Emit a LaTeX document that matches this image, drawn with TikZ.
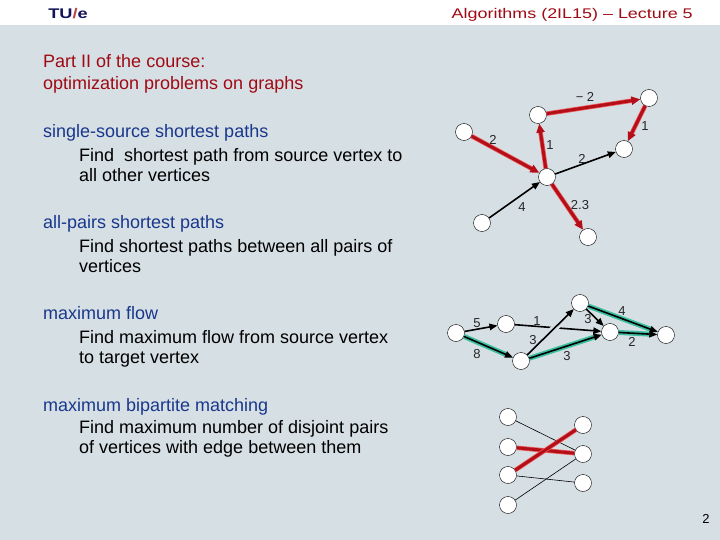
\documentclass[tikz,border=0pt]{standalone}
\usepackage{fontspec}
\setmainfont{Liberation Sans}
\definecolor{slidebg}{RGB}{214,223,228}
\definecolor{tuenavy}{RGB}{20,20,90}
\definecolor{titlered}{RGB}{160,10,20}
\definecolor{headblue}{RGB}{25,55,140}
\definecolor{edgered}{RGB}{180,15,25}
\definecolor{edgeglow}{RGB}{235,90,90}
\definecolor{flowgreen}{RGB}{60,190,160}
\usetikzlibrary{arrows.meta}

\begin{document}
\begin{tikzpicture}[x=1pt, y=-1pt,
    vtx/.style={circle, draw=black, fill=white, inner sep=0pt, minimum size=17pt},
    lbl/.style={font=\fontsize{13}{13}\selectfont, text=black!85, inner sep=0pt},
    redarc/.style={draw=edgered, line width=3pt, -{Triangle[length=9pt,width=8pt]},
        preaction={draw=edgeglow, line width=4.5pt, -, shorten >=8pt}},
    blackarc/.style={draw=black, line width=1.6pt, -{Triangle[length=8pt,width=6.5pt]}},
    flowarc/.style={blackarc, preaction={draw=flowgreen, line width=5pt, -, shorten >=7pt}},
    redmatch/.style={draw=edgered, line width=3pt, preaction={draw=edgeglow, line width=4.5pt}},
    thinedge/.style={draw=black, line width=0.6pt},
    topic/.style={anchor=base west, inner sep=0pt, text=headblue, font=\fontsize{18}{22}\selectfont},
    detail/.style={anchor=base west, inner sep=0pt, align=left, font=\fontsize{18}{20}\selectfont}]
    \useasboundingbox (0,0) rectangle (720,540);
    \fill[slidebg] (0,0) rectangle (720,540);
    \fill[white] (0,0) rectangle (720,25);

    % header
    \node[anchor=base west, inner sep=0pt, xscale=1.3, font=\fontsize{14}{14}\selectfont\bfseries] (tue) at (48,19)
        {\textcolor{tuenavy}{TU}\textcolor{red!45!gray}{/}\textcolor{tuenavy}{e}};
    \node[anchor=base east, inner sep=0pt, xscale=1.28, text=titlered, font=\fontsize{14}{14}\selectfont] (course) at (693,19)
        {Algorithms (2IL15) -- Lecture 5};

    % text column (base = last line)
    \node[anchor=base west, inner sep=0pt, align=left, text=titlered, font=\fontsize{18}{22}\selectfont] (part) at (43,90)
        {Part II of the course:\\optimization problems on graphs};
    \node[topic] (sssp) at (43,138) {single-source shortest paths};
    \node[detail] (ssspt) at (79,182) {Find\ \ shortest path from source vertex to\\all other vertices};
    \node[topic] (apsp) at (43,229) {all-pairs shortest paths};
    \node[detail] (apspt) at (79,272) {Find shortest paths between all pairs of\\vertices};
    \node[topic] (mflow) at (43,319) {maximum flow};
    \node[detail] (mflowt) at (79,363) {Find maximum flow from source vertex\\to target vertex};
    \node[topic] (bmatch) at (43,411) {maximum bipartite matching};
    \node[detail] (bmatcht) at (79,453) {Find maximum number of disjoint pairs\\of vertices with edge between them};

    % shortest paths graph
    \node[vtx] (p1) at (538,115) {};
    \node[vtx] (p2) at (649,98) {};
    \node[vtx] (p3) at (464,132) {};
    \node[vtx] (p4) at (624,149) {};
    \node[vtx] (p5) at (547,177) {};
    \node[vtx] (p6) at (482,223) {};
    \node[vtx] (p7) at (588,237) {};
    \draw[redarc] (p1) -- (p2);
    \draw[redarc] (p2) -- (p4);
    \draw[redarc] (p3) -- (p5);
    \draw[redarc] (p5) -- (p1);
    \draw[blackarc] (p5) -- (p4);
    \draw[blackarc] (p6) -- (p5);
    \draw[redarc] (p5) -- (p7);
    \node[lbl] (w12) at (585,97) {− 2};
    \node[lbl] (w24) at (645,126) {1};
    \node[lbl] (w35) at (493,140) {2};
    \node[lbl] (w51) at (550,145) {1};
    \node[lbl] (w54) at (582,159) {2};
    \node[lbl] (w65) at (522,207) {4};
    \node[lbl] (w57) at (580,205) {2.3};

    % flow network
    \node[vtx] (s) at (456,333) {};
    \node[vtx] (a) at (506,324) {};
    \node[vtx] (b) at (521,361) {};
    \node[vtx] (c) at (580,303) {};
    \node[vtx] (d) at (610,332) {};
    \node[vtx] (t) at (666,335) {};
    \draw[blackarc] (s) -- (a);
    \draw[flowarc] (s) -- (b);
    \draw[blackarc] (a) -- (d);
    \draw[blackarc, preaction={draw=slidebg, line width=7pt, -, shorten <=12pt, shorten >=14pt}] (b) -- (c);
    \draw[flowarc] (b) -- (d);
    \draw[blackarc] (c) -- (d);
    \draw[flowarc] (c) -- (t);
    \draw[flowarc] (d) -- (t);
    \node[lbl] (csa) at (477,323) {5};
    \node[lbl] (csb) at (477,354) {8};
    \node[lbl] (cad) at (537,321) {1};
    \node[lbl] (cbc) at (533,340) {3};
    \node[lbl] (cbd) at (567,356) {3};
    \node[lbl] (ccd) at (588,319) {3};
    \node[lbl] (cct) at (622,311) {4};
    \node[lbl] (cdt) at (632,342) {2};

    % bipartite graph
    \foreach \i/\y in {1/417,2/447,3/475,4/505}
        \node[vtx] (u\i) at (508,\y) {};
    \foreach \j/\y in {1/425,2/454,3/483}
        \node[vtx] (v\j) at (583,\y) {};
    \draw[thinedge] (u1) -- (v2);
    \draw[thinedge] (u3) -- (v3);
    \draw[thinedge] (u4) -- (v2);
    \draw[redmatch] (u2) -- (v2);
    \draw[redmatch] (u3) -- (v1);

    \node[font=\fontsize{13}{13}\selectfont, inner sep=0pt] (pnum) at (706,519) {2};
\end{tikzpicture}
\end{document}
